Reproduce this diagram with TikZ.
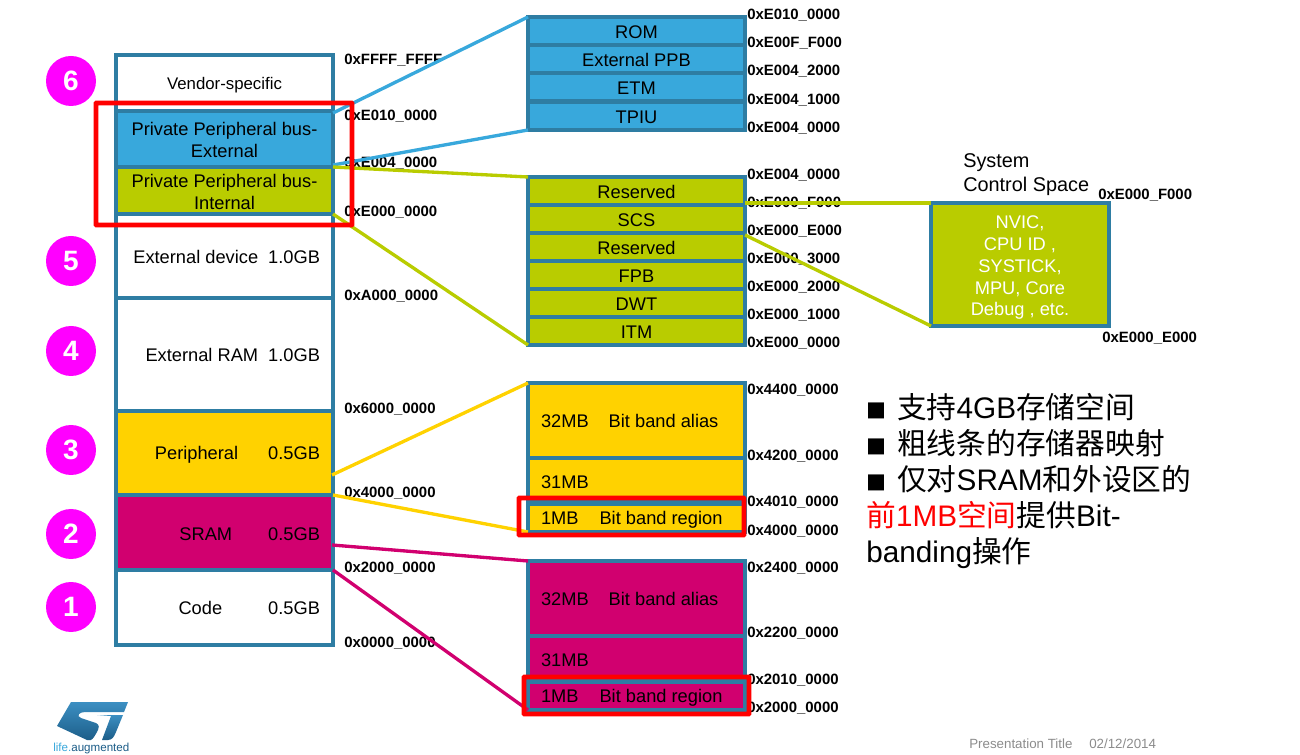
\documentclass[tikz,border=0pt]{standalone}
\usepackage{fontspec}
\setmainfont{Liberation Sans}
\newfontfamily\cjk{Noto Sans CJK SC}
\definecolor{frameblue}{HTML}{2E7DA3}
\definecolor{ppbblue}{HTML}{38A8DC}
\definecolor{olivegreen}{HTML}{B9CC00}
\definecolor{gold}{HTML}{FFD200}
\definecolor{berry}{HTML}{D1006F}
\definecolor{pinkball}{HTML}{FF00FF}
\definecolor{grayfoot}{HTML}{8C8C8C}
\definecolor{logotop}{HTML}{3C8FC2}
\definecolor{logobot}{HTML}{1C5D88}
% left column: left text, gap, right text, flush to a right margin
\newcommand{\rowr}[3]{\makebox[162.75pt][r]{#1\hspace{#2}#3\hspace*{9.75pt}}}
% detail column: text from a fixed left margin
\newcommand{\rowl}[1]{\makebox[162.75pt][l]{\hspace*{9.75pt}#1}}
\newcommand{\sqb}{{\fontsize{15}{27}\selectfont\cjk ■}\hspace{8.2pt}}
\tikzset{
  x=0.75pt,y=-0.75pt,
  blk/.style={draw=frameblue,line width=2.3pt,anchor=north west,inner sep=0pt,outer sep=0pt,
    font=\fontsize{13.7}{16.5}\selectfont,align=center},
  colbox/.style={blk,minimum width=162.75pt},
  onerow/.style={colbox,execute at begin node={\rule{0pt}{#1}}},
  onerow/.default=12pt,
  addr/.style={anchor=west,inner sep=0pt,font=\fontsize{11.2}{13}\bfseries\selectfont},
  ball/.style={circle,fill=pinkball,minimum size=37.5pt,inner sep=0pt,font=\fontsize{21}{24}\bfseries\selectfont,text=white},
  link/.style={line width=2.5pt},
  redbox/.style={draw=red,line width=3.7pt,rounded corners=0.5pt},
}
\begin{document}
\begin{tikzpicture}
\useasboundingbox (0,0) rectangle (1300,755);
\fill[white] (0,0) rectangle (1300,755);
% addresses lie under the connectors
\foreach \n/\px/\py/\t in {a1/344/60/0xFFFF\_FFFF,a2/344/116/0xE010\_0000,a3/344/163/0xE004\_0000,a4/344/212/0xE000\_0000,a5/344/296/0xA000\_0000,a6/344/409/0x6000\_0000,a7/344/493/0x4000\_0000,a8/344/568/0x2000\_0000,a9/344/643/0x0000\_0000,
 c1/747/15/0xE010\_0000,c2/747/43/0xE00F\_F000,c3/747/71/0xE004\_2000,c4/747/100/0xE004\_1000,c5/747/128/0xE004\_0000,
 d1/747/175/0xE004\_0000,d2/747/203/0xE000\_F000,d3/747/231/0xE000\_E000,d4/747/259/0xE000\_3000,d5/747/287/0xE000\_2000,d6/747/315/0xE000\_1000,d7/747/343/0xE000\_0000,
 e1/1098/195/0xE000\_F000,e2/1102/338/0xE000\_E000,
 f1/747/390/0x4400\_0000,f2/747/456/0x4200\_0000,f3/747/502/0x4010\_0000,f4/747/531/0x4000\_0000,
 g1/747/568/0x2400\_0000,g2/747/633/0x2200\_0000,g3/747/680/0x2010\_0000,g4/747/708/0x2000\_0000}
 {\node[addr] (\n) at (\px,\py) {\t};}
% left column
\node[onerow,minimum height=42pt] (vend) at (116,55) {\fontsize{12.6}{15}\selectfont Vendor-specific};
\node[colbox,fill=ppbblue,minimum height=42pt] (ppbe) at (116,111) {\rule{0pt}{11.5pt}Private Peripheral bus-\\External};
\node[colbox,fill=olivegreen,minimum height=35.25pt] (ppbi) at (116,167) {\rule{0pt}{11.5pt}Private Peripheral bus-\\Internal};
\node[onerow,minimum height=63pt] (extd) at (116,214) {\rowr{External device}{7.5pt}{1.0GB}};
\node[onerow=10.5pt,minimum height=84.75pt] (extr) at (116,298) {\rowr{External RAM}{7.5pt}{1.0GB}};
\node[onerow,fill=gold,minimum height=63pt] (peri) at (116,411) {\rowr{Peripheral}{22.5pt}{0.5GB}};
\node[onerow,fill=berry,minimum height=56.25pt] (sram) at (116,495) {\rowr{SRAM}{27pt}{0.5GB}};
\node[onerow=10.5pt,minimum height=56.25pt] (code) at (116,570) {\rowr{Code}{34.5pt}{0.5GB}};
% PPB external detail
\node[onerow,fill=ppbblue,minimum height=21pt] (rom) at (528,17) {ROM};
\node[onerow,fill=ppbblue,minimum height=21pt] (xppb) at (528,45) {External PPB};
\node[onerow,fill=ppbblue,minimum height=21pt] (etm) at (528,73) {ETM};
\node[onerow,fill=ppbblue,minimum height=21pt] (tpiu) at (528,102) {TPIU};
% PPB internal detail
\node[onerow,fill=olivegreen,minimum height=21pt] (res1) at (528,177) {Reserved};
\node[onerow,fill=olivegreen,minimum height=21pt] (scs) at (528,205) {SCS};
\node[onerow,fill=olivegreen,minimum height=21pt] (res2) at (528,233) {Reserved};
\node[onerow,fill=olivegreen,minimum height=21pt] (fpb) at (528,261) {FPB};
\node[onerow,fill=olivegreen,minimum height=21pt] (dwt) at (528,289) {DWT};
\node[onerow,fill=olivegreen,minimum height=21pt] (itm) at (528,317) {ITM};
% system control space
\node[blk,fill=olivegreen,minimum width=133.5pt,minimum height=92.25pt,text=white,font=\fontsize{13.7}{16.3}\selectfont] (sysb) at (931,203) {\rule{0pt}{14.5pt}NVIC,\\CPU ID ,\\SYSTICK,\\MPU, Core\\Debug , etc.};
\node[anchor=north west,inner sep=0pt,align=left,font=\fontsize{14.9}{18}\selectfont] (systitle) at (963,153) {System\\Control Space};
% peripheral detail
\node[onerow=10.5pt,fill=gold,minimum height=56.25pt] (pa) at (528,383) {\rowl{32MB\hspace{15pt}Bit band alias}};
\node[onerow=13.6pt,fill=gold,minimum height=33pt] (pb) at (528,458) {\rowl{31MB}};
\node[onerow,fill=gold,minimum height=21pt] (pc) at (528,504) {\rowl{1MB\hspace{15.75pt}Bit band region}};
% SRAM detail
\node[onerow=10.5pt,fill=berry,minimum height=56.25pt] (sa) at (528,561) {\rowl{32MB\hspace{15pt}Bit band alias}};
\node[onerow=13.6pt,fill=berry,minimum height=33pt] (sb) at (528,636) {\rowl{31MB}};
\node[onerow,fill=berry,minimum height=21pt] (sc) at (528,682) {\rowl{1MB\hspace{15.75pt}Bit band region}};
% connector free ends on the left column
\coordinate (perimid) at (332,475);
\coordinate (srammid) at (332,545);
% connectors
\draw[link,ppbblue] (ppbe.north east) ++(0,2) -- (rom.north west);
\draw[link,ppbblue] (ppbe.south east) ++(0,-2) -- (tpiu.south west);
\draw[link,olivegreen] (ppbe.south east) -- (res1.north west);
\draw[link,olivegreen] (ppbi.south east) -- (itm.south west);
\draw[link,olivegreen] (res1.south east) ++(0,-2) -- (sysb.north west);
\draw[link,olivegreen] (scs.south east) ++(0,2) -- (sysb.south west);
\draw[link,gold] (perimid) -- (pa.north west);
\draw[link,gold] (peri.south east) -- (pc.south west);
\draw[link,berry] (srammid) -- (sa.north west);
\draw[link,berry] (sram.south east) -- (sc.south west);
% balls
\node[ball] (b6) at (71,81) {6};
\node[ball] (b5) at (71,261) {5};
\node[ball] (b4) at (71,351) {4};
\node[ball] (b3) at (71,450) {3};
\node[ball] (b2) at (71,534) {2};
\node[ball] (b1) at (71,607) {1};
% red highlight frames
\draw[redbox] (96,103) rectangle (352,225);
\draw[redbox] (519,498) rectangle (744,535);
\draw[redbox] (524,677) rectangle (749,714);
% text block
\node[anchor=north west,inner sep=0pt,align=left,font=\fontsize{22.3}{27}\selectfont] (notes) at (866,393) {%
 \sqb{\cjk 支持}4GB{\cjk 存储空间}\\
 \sqb{\cjk 粗线条的存储器映射}\\
 \sqb{\cjk 仅对}SRAM{\cjk 和外设区的}\\
 \textcolor{red}{{\cjk 前}1MB{\cjk 空间}}{\cjk 提供}Bit-\\
 banding{\cjk 操作}};
% footer
\node[anchor=west,inner sep=0pt,text=grayfoot,font=\fontsize{10}{12}\selectfont] (foot1) at (969,744) {Presentation Title};
\node[anchor=west,inner sep=0pt,text=grayfoot,font=\fontsize{10}{12}\selectfont] (foot2) at (1089,744) {02/12/2014};
% logo
\shade[top color=logotop,bottom color=logobot] (71,702) -- (128,702) -- (124,712) -- (85,712) .. controls (79,712) and (76,716) .. (81,718) -- (96,723) .. controls (100,725) and (99,728) .. (97,732) -- (94,737) .. controls (92,740) and (90,741) .. (87,740) -- (57,726) -- cycle;
\shade[top color=logotop,bottom color=logobot] (97,715) -- (123,715) -- (116,732) .. controls (114,737) and (112,740) .. (108,740) -- (102,740) -- (111,716) -- cycle;
\node[anchor=west,inner sep=0pt,font=\fontsize{8.7}{10}\selectfont,text=logobot] (lifeaug) at (53,748) {\textcolor{ppbblue}{life.}augmented};
\end{tikzpicture}
\end{document}
